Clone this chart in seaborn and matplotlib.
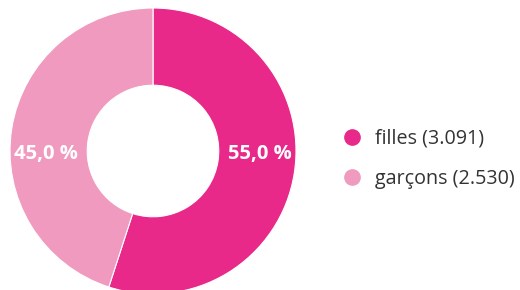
import matplotlib
matplotlib.use("Agg")
import matplotlib.pyplot as plt
from matplotlib.lines import Line2D
import numpy as np
import seaborn as sns

categories = ["filles", "garçons"]
counts = [3091, 2530]
shares = [55.0, 45.0]
count_labels = ["3.091", "2.530"]
colors = ["#E8298A", "#F09ABF"]

sns.set_theme(style="white")
plt.rcParams['font.family'] = ['Open Sans', 'DejaVu Sans']

fig = plt.figure(figsize=(5.2, 2.9), dpi=100)
ax = fig.add_axes([10/520, -4/290, 286/520, 286/290])
wedges, _ = ax.pie(shares, colors=colors, startangle=90, counterclock=False,
                   radius=1.0, wedgeprops=dict(width=0.54, edgecolor="white", linewidth=0.8))
ax.set_xlim(-1, 1)
ax.set_ylim(-1, 1)
ax.set_aspect("equal")
ax.axis("off")

cum = 0
for s in shares:
    mid = 90 - (cum + s / 2) * 3.6
    cum += s
    x = 0.75 * np.sign(np.cos(np.deg2rad(mid)))
    ax.text(x, -0.02, f"{s:.1f}".replace(".", ",") + " %", color="white",
            fontsize=14.5, fontweight="bold", ha="center", va="center")

handles = [Line2D([0], [0], marker="o", linestyle="", markersize=11,
                  markerfacecolor=c, markeredgecolor=c) for c in colors]
labels = [f"{c} ({n})" for c, n in zip(categories, count_labels)]
fig.legend(handles, labels, loc="center left", bbox_to_anchor=(322/520, 0.452),
           frameon=False, fontsize=14.2, handletextpad=0.6, labelspacing=1.05,
           handlelength=1.2, labelcolor="#333333")

fig.savefig("out.png", dpi=100)
